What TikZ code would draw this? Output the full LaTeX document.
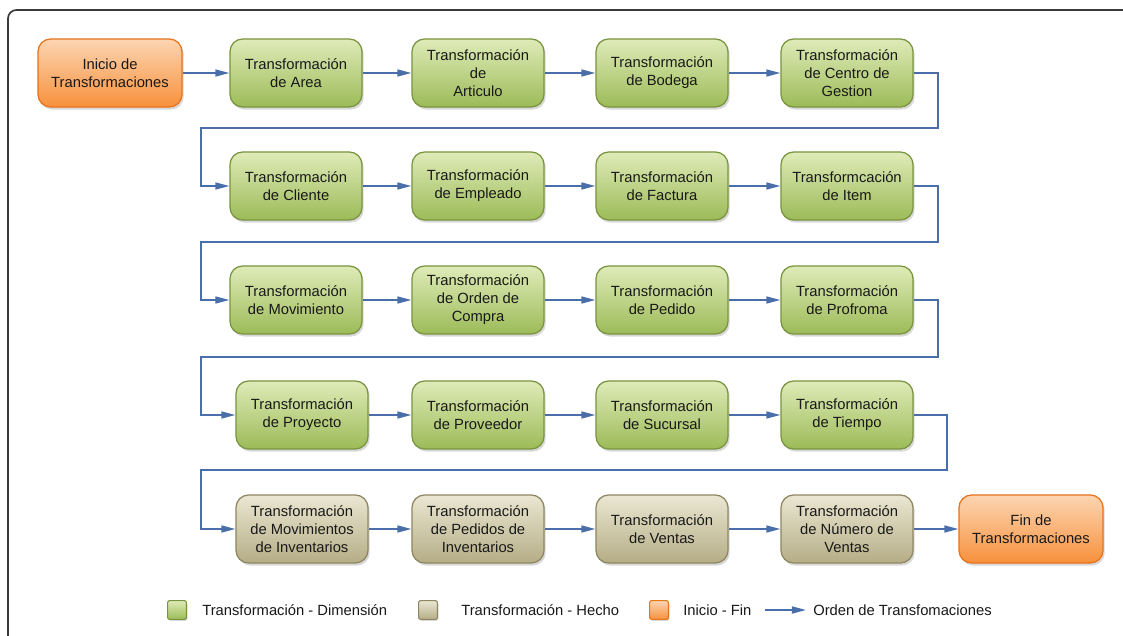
\documentclass[tikz,border=0pt]{standalone}
\usepackage{fontspec}
\setmainfont{Liberation Sans}
\usetikzlibrary{arrows.meta,shadows}

\definecolor{dimtop}{HTML}{DFEBB8}
\definecolor{dimbot}{HTML}{9CBB58}
\definecolor{dimline}{HTML}{7A9540}
\definecolor{hectop}{HTML}{EAE7D2}
\definecolor{hecbot}{HTML}{B5AD86}
\definecolor{hecline}{HTML}{8E8762}
\definecolor{initop}{HTML}{FCD5B2}
\definecolor{inibot}{HTML}{F7913C}
\definecolor{iniline}{HTML}{E8741C}
\definecolor{flowblue}{HTML}{4A6EA9}
\definecolor{framegray}{HTML}{3A3A3A}

\tikzset{
	tbox/.style={draw, line width=0.9pt, rounded corners=9pt,
		minimum width=3.3cm, minimum height=1.7cm, align=center,
		font=\fontsize{10.5}{12.8}\selectfont, text=black!90,
		drop shadow={shadow xshift=1.2pt, shadow yshift=-1.8pt, opacity=0.3}},
	dimension/.style={tbox, draw=dimline, top color=dimtop, bottom color=dimbot},
	hecho/.style={tbox, draw=hecline, top color=hectop, bottom color=hecbot},
	iniciofin/.style={tbox, draw=iniline, top color=initop, bottom color=inibot, minimum width=3.6cm},
	keybox/.style={draw, line width=0.8pt, rounded corners=1.5pt, minimum size=0.47cm, inner sep=0pt,
		drop shadow={shadow xshift=0.8pt, shadow yshift=-1pt, opacity=0.3}},
	keytext/.style={anchor=west, inner sep=0pt, font=\fontsize{10.5}{12.8}\selectfont, text=black!90},
	flow/.style={draw=flowblue, line width=1.1pt, -{Triangle[length=10pt,width=5pt]}}
}

\begin{document}
\begin{tikzpicture}[x=0.025cm, y=-0.025cm]
		\useasboundingbox (0,0) rectangle (1123,636);
		\fill[white] (0,0) rectangle (1123,636);
		\begin{scope}
			\clip (0,0) rectangle (1123,636);
			\draw[framegray, line width=1.2pt, rounded corners=6pt] (8,10) rectangle (1160,680);
		\end{scope}
		
		% fila 1
		\node[iniciofin] (ini) at (110,73) {Inicio de\\Transformaciones};
		\node[dimension] (area) at (296,73) {Transformación\\de Area};
		\node[dimension] (art) at (478,73) {Transformación\\de\\Articulo};
		\node[dimension] (bod) at (662,73) {Transformación\\de Bodega};
		\node[dimension] (ges) at (847,73) {Transformación\\de Centro de\\Gestion};
		
		% fila 2
		\node[dimension] (cli) at (296,186) {Transformación\\de Cliente};
		\node[dimension] (emp) at (478,186) {Transformación\\de Empleado};
		\node[dimension] (fac) at (662,186) {Transformación\\de Factura};
		\node[dimension] (ite) at (847,186) {Transformcación\\de Item};
		
		% fila 3
		\node[dimension] (mov) at (296,300) {Transformación\\de Movimiento};
		\node[dimension] (ord) at (478,300) {Transformación\\de Orden de\\Compra};
		\node[dimension] (ped) at (662,300) {Transformación\\de Pedido};
		\node[dimension] (prf) at (847,300) {Transformación\\de Profroma};
		
		% fila 4
		\node[dimension] (pry) at (302,415) {Transformación\\de Proyecto};
		\node[dimension] (prv) at (478,415) {Transformación\\de Proveedor};
		\node[dimension] (suc) at (662,415) {Transformación\\de Sucursal};
		\node[dimension] (tie) at (847,415) {Transformación\\de Tiempo};
		
		% fila 5 (hechos)
		\node[hecho] (mvi) at (302,529) {Transformación\\de Movimientos\\de Inventarios};
		\node[hecho] (pdi) at (478,529) {Transformación\\de Pedidos de\\Inventarios};
		\node[hecho] (ven) at (662,529) {Transformación\\de Ventas};
		\node[hecho] (nve) at (847,529) {Transformación\\de Número de\\Ventas};
		\node[iniciofin] (fin) at (1031,529) {Fin de\\Transformaciones};
		
		% orden dentro de cada fila
		\foreach \a/\b in {ini/area, area/art, art/bod, bod/ges,
			cli/emp, emp/fac, fac/ite,
			mov/ord, ord/ped, ped/prf,
			pry/prv, prv/suc, suc/tie,
			mvi/pdi, pdi/ven, ven/nve, nve/fin}
			\draw[flow] (\a) -- (\b);
		
		% saltos de fila
		\coordinate (t1) at (938,128); \coordinate (s1) at (201,186);
		\coordinate (t2) at (938,242); \coordinate (s2) at (201,300);
		\coordinate (t3) at (938,357); \coordinate (s3) at (201,415);
		\coordinate (t4) at (947,470); \coordinate (s4) at (201,529);
		\draw[flow] (ges) -| (t1) -| (s1) -- (cli);
		\draw[flow] (ite) -| (t2) -| (s2) -- (mov);
		\draw[flow] (prf) -| (t3) -| (s3) -- (pry);
		\draw[flow] (tie) -| (t4) -| (s4) -- (mvi);
		
		% leyenda
		\node[keybox, draw=dimline, top color=dimtop, bottom color=dimbot] (kdim) at (177,610) {};
		\node[keytext] (ldim) at (202,610) {Transformación - Dimensión};
		\node[keybox, draw=hecline, top color=hectop, bottom color=hecbot] (khec) at (428,610) {};
		\node[keytext] (lhec) at (461,610) {Transformación - Hecho};
		\node[keybox, draw=iniline, top color=initop, bottom color=inibot] (kini) at (659,610) {};
		\node[keytext] (lini) at (683,610) {Inicio - Fin};
		\coordinate (ka) at (765,610); \coordinate (kb) at (806,610);
		\draw[flow] (ka) -- (kb);
		\node[keytext] (lord) at (813,610) {Orden de Transfomaciones};
\end{tikzpicture}
\end{document}
